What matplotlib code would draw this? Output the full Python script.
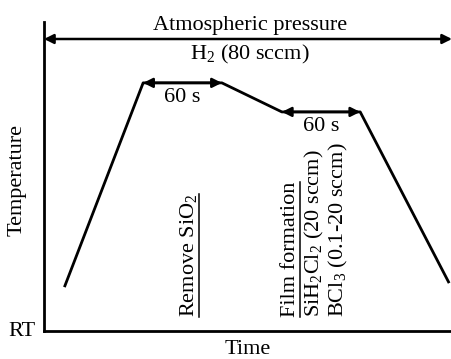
import matplotlib
matplotlib.use("Agg")
import matplotlib.pyplot as plt
from matplotlib.lines import Line2D

plt.rcParams['font.family'] = ['Liberation Serif', 'DejaVu Serif']
plt.rcParams['mathtext.fontset'] = 'custom'
plt.rcParams['mathtext.rm'] = 'Liberation Serif'
plt.rcParams['mathtext.it'] = 'Liberation Serif:italic'

# temperature profile (arbitrary units, time 0-100, temperature 0-100)
time = [5, 24.3, 43.6, 58.3, 77.5, 99.3]
temp = [14.2, 80.3, 80.3, 70.9, 70.9, 15.5]

# hold segments marked with a double arrow
holds = [(1, 2), (3, 4)]
hold_label = "60 s"

# gas / pressure annotation
pressure_label = "Atmospheric pressure"
gas_label = r"H$_2$ (80 sccm)"
pressure_level = 94.5

# (x position, [(text, underlined), ...])
step_labels = [
    (35.5, [(r"Remove SiO$_2$", True)]),
    (60.5, [("Film formation", True),
            (r"SiH$_2$Cl$_2$ (20 sccm)", False),
            (r"BCl$_3$ (0.1-20 sccm)", False)]),
]

fig = plt.figure(figsize=(4.52, 3.59), dpi=100)
ax = fig.add_axes([44 / 452, 28 / 359, 408 / 452, 309 / 359])
ax.set_xlim(0, 100)
ax.set_ylim(0, 100)

for s in ['top', 'right']:
    ax.spines[s].set_visible(False)
for s in ['left', 'bottom']:
    ax.spines[s].set_linewidth(2.0)
ax.set_xticks([])
ax.set_yticks([])

ax.plot(time, temp, color='black', lw=2.0, solid_capstyle='butt',
        clip_on=False)

arrow = dict(arrowstyle='<|-|>', color='black', lw=1.8,
             mutation_scale=14, shrinkA=0, shrinkB=0)
for a, b in holds:
    ax.annotate('', xy=(time[b], temp[a]), xytext=(time[a], temp[a]),
                arrowprops=arrow)
    ax.text((time[a] + time[b]) / 2, temp[a] - 1.5, hold_label,
            ha='center', va='top', fontsize=16)

ax.annotate('', xy=(100, pressure_level), xytext=(0, pressure_level),
            arrowprops=arrow, annotation_clip=False)
ax.text(50.5, pressure_level + 1.2, pressure_label, ha='center',
        va='bottom', fontsize=16)
ax.text(50.5, pressure_level - 1.2, gas_label, ha='center',
        va='top', fontsize=16)

underlined = []
for x0, lines in step_labels:
    for i, (line, ul) in enumerate(lines):
        t = ax.text(x0 + i * 5.8, 4.5, line, rotation=90, ha='center',
                    va='bottom', fontsize=16)
        if ul:
            underlined.append(t)

fig.text(17 / 452, 1 - 180 / 359, "Temperature", rotation=90,
         ha='center', va='center', fontsize=16)
fig.text(22 / 452, 1 - 331 / 359, "RT", ha='center', va='center',
         fontsize=16)
fig.text(248 / 452, 1 - 350 / 359, "Time", ha='center', va='center',
         fontsize=16)

# underline the rotated step titles (baseline side is on the right)
fig.canvas.draw()
r = fig.canvas.get_renderer()
W, H = fig.bbox.width, fig.bbox.height
for t in underlined:
    bb = t.get_window_extent(r)
    x = bb.x1 / W
    fig.add_artist(Line2D([x, x], [bb.y0 / H, bb.y1 / H], color='black',
                          lw=1.1))

fig.savefig("out.png", dpi=100)
